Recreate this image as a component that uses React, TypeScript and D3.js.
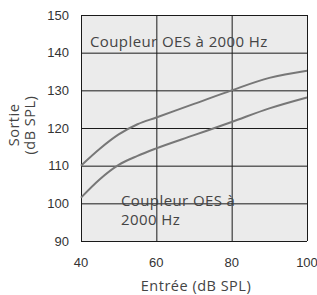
import React, { useEffect, useRef } from 'react';
import * as d3 from 'd3';

// Entrée (dB SPL)
const inputLevels = [40, 45, 50, 55, 60, 70, 80, 90, 100];
// Sortie (dB SPL), courbe haute
const upperOutput = [110, 114.5, 118.3, 121, 122.8, 126.4, 130, 133.3, 135.2];
// Sortie (dB SPL), courbe basse
const lowerOutput = [101.5, 106.4, 110.2, 112.6, 114.6, 118.1, 121.6, 125.2, 128.1];

const xTicks = [40, 60, 80, 100];
const yTicks = [90, 100, 110, 120, 130, 140, 150];

const App = () => {
    const ref = useRef<SVGSVGElement>(null);

    const graph = () => {
        const svg = d3.select(ref.current);
        svg.selectAll('*').remove();

        const left = 81;
        const right = 307;
        const top = 15;
        const bottom = 241;

        const x = d3.scaleLinear().domain([40, 100]).range([left, right]);
        const y = d3.scaleLinear().domain([90, 150]).range([bottom, top]);

        const tickFont = '"Liberation Sans", Arial, sans-serif';
        const labelFont = '"Open Sans", sans-serif';

        svg.append('rect')
            .attr('x', left)
            .attr('y', top)
            .attr('width', right - left)
            .attr('height', bottom - top)
            .attr('fill', '#ebebeb');

        // grid
        svg.append('g')
            .selectAll('line')
            .data(yTicks)
            .enter().append('line')
            .attr('x1', left)
            .attr('x2', right)
            .attr('y1', d => y(d) + 0.5)
            .attr('y2', d => y(d) + 0.5)
            .attr('stroke', '#1a1a1a')
            .attr('stroke-width', 1);

        svg.append('g')
            .selectAll('line')
            .data(xTicks)
            .enter().append('line')
            .attr('x1', d => x(d) + 0.5)
            .attr('x2', d => x(d) + 0.5)
            .attr('y1', top)
            .attr('y2', bottom)
            .attr('stroke', '#1a1a1a')
            .attr('stroke-width', 1);

        // labels inside the plot
        svg.append('text')
            .attr('x', 90)
            .attr('y', 47)
            .attr('font-family', labelFont)
            .attr('font-size', 15)
            .attr('letter-spacing', 0.4)
            .attr('fill', '#444')
            .text('Coupleur OES à 2000 Hz');

        svg.append('text')
            .attr('x', 121)
            .attr('y', 206)
            .attr('font-family', labelFont)
            .attr('font-size', 15)
            .attr('letter-spacing', 0.4)
            .attr('fill', '#444')
            .text('Coupleur OES à');

        svg.append('text')
            .attr('x', 121)
            .attr('y', 225)
            .attr('font-family', labelFont)
            .attr('font-size', 15)
            .attr('letter-spacing', 0.4)
            .attr('fill', '#444')
            .text('2000 Hz');

        const line = d3.line<number>()
            .x((d, i) => x(inputLevels[i]))
            .y(d => y(d))
            .curve(d3.curveMonotoneX);

        [upperOutput, lowerOutput].forEach(s => {
            svg.append('path')
                .attr('d', line(s))
                .attr('fill', 'none')
                .attr('stroke', '#777')
                .attr('stroke-width', 2);
        });

        // tick labels
        svg.append('g')
            .selectAll('text')
            .data(yTicks)
            .enter().append('text')
            .attr('x', 69)
            .attr('y', d => y(d))
            .attr('dy', '0.35em')
            .attr('text-anchor', 'end')
            .attr('font-family', tickFont)
            .attr('font-size', 13)
            .attr('fill', '#333')
            .text(d => d);

        svg.append('g')
            .selectAll('text')
            .data(xTicks)
            .enter().append('text')
            .attr('x', d => x(d))
            .attr('y', 262)
            .attr('dy', '0.35em')
            .attr('text-anchor', 'middle')
            .attr('font-family', tickFont)
            .attr('font-size', 13)
            .attr('fill', '#333')
            .text(d => d);

        svg.append('text')
            .attr('x', 196)
            .attr('y', 291)
            .attr('text-anchor', 'middle')
            .attr('font-family', labelFont)
            .attr('font-size', 14.5)
            .attr('letter-spacing', 0.5)
            .attr('fill', '#444')
            .text('Entrée (dB SPL)');

        const yt = svg.append('g')
            .attr('transform', `translate(0, 125) rotate(-90)`);
        yt.append('text')
            .attr('x', 0).attr('y', 19)
            .attr('text-anchor', 'middle')
            .attr('font-family', labelFont)
            .attr('font-size', 14.5)
            .attr('letter-spacing', 0.5)
            .attr('fill', '#444')
            .text('Sortie');
        yt.append('text')
            .attr('x', 0).attr('y', 35)
            .attr('text-anchor', 'middle')
            .attr('font-family', labelFont)
            .attr('font-size', 14.5)
            .attr('letter-spacing', 0.5)
            .attr('fill', '#444')
            .text('(dB SPL)');
    };

    useEffect(() => graph());

    return (
        <svg ref={ref} width="317" height="295"
            style={{ position: 'absolute', left: 0, top: 0, background: '#fff' }}></svg>
    );
};

export default App;
